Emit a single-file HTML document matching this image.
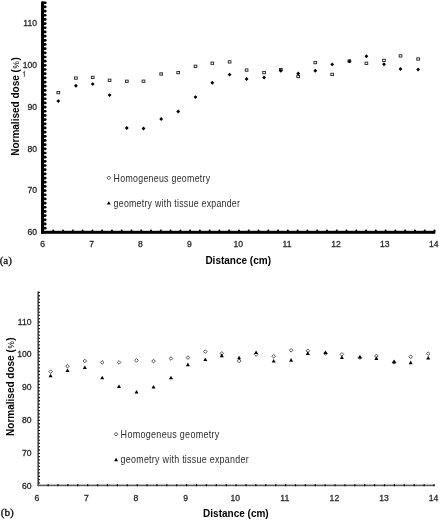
<!DOCTYPE html><html><head><meta charset="utf-8"><style>
html,body{margin:0;padding:0;background:#fff;width:442px;height:524px;overflow:hidden}
svg{display:block;will-change:transform}
.t{font-family:"Liberation Sans",sans-serif;fill:#333}
.s{font-family:"Liberation Serif",serif;fill:#111}
</style></head><body>
<svg width="442" height="524" viewBox="0 0 442 524">
<defs><filter id="bl" x="-20%" y="-20%" width="140%" height="140%"><feGaussianBlur stdDeviation="0.35"/></filter></defs>
<g fill="#000">
<rect x="41" y="1.3" width="3" height="232.5" rx="1.2"/>
<rect x="42.5" y="226.78" width="4.1" height="2.7" rx="1.35"/>
<rect x="42.5" y="222.6" width="4.1" height="2.7" rx="1.35"/>
<rect x="42.5" y="218.43" width="4.1" height="2.7" rx="1.35"/>
<rect x="42.5" y="214.25" width="4.1" height="2.7" rx="1.35"/>
<rect x="42.5" y="210.08" width="4.1" height="2.7" rx="1.35"/>
<rect x="42.5" y="205.91" width="4.1" height="2.7" rx="1.35"/>
<rect x="42.5" y="201.73" width="4.1" height="2.7" rx="1.35"/>
<rect x="42.5" y="197.56" width="4.1" height="2.7" rx="1.35"/>
<rect x="42.5" y="193.38" width="4.1" height="2.7" rx="1.35"/>
<rect x="42.5" y="189.21" width="4.1" height="2.7" rx="1.35"/>
<rect x="42.5" y="185.04" width="4.1" height="2.7" rx="1.35"/>
<rect x="42.5" y="180.86" width="4.1" height="2.7" rx="1.35"/>
<rect x="42.5" y="176.69" width="4.1" height="2.7" rx="1.35"/>
<rect x="42.5" y="172.51" width="4.1" height="2.7" rx="1.35"/>
<rect x="42.5" y="168.34" width="4.1" height="2.7" rx="1.35"/>
<rect x="42.5" y="164.17" width="4.1" height="2.7" rx="1.35"/>
<rect x="42.5" y="159.99" width="4.1" height="2.7" rx="1.35"/>
<rect x="42.5" y="155.82" width="4.1" height="2.7" rx="1.35"/>
<rect x="42.5" y="151.64" width="4.1" height="2.7" rx="1.35"/>
<rect x="42.5" y="147.47" width="4.1" height="2.7" rx="1.35"/>
<rect x="42.5" y="143.3" width="4.1" height="2.7" rx="1.35"/>
<rect x="42.5" y="139.12" width="4.1" height="2.7" rx="1.35"/>
<rect x="42.5" y="134.95" width="4.1" height="2.7" rx="1.35"/>
<rect x="42.5" y="130.77" width="4.1" height="2.7" rx="1.35"/>
<rect x="42.5" y="126.6" width="4.1" height="2.7" rx="1.35"/>
<rect x="42.5" y="122.43" width="4.1" height="2.7" rx="1.35"/>
<rect x="42.5" y="118.25" width="4.1" height="2.7" rx="1.35"/>
<rect x="42.5" y="114.08" width="4.1" height="2.7" rx="1.35"/>
<rect x="42.5" y="109.9" width="4.1" height="2.7" rx="1.35"/>
<rect x="42.5" y="105.73" width="4.1" height="2.7" rx="1.35"/>
<rect x="42.5" y="101.56" width="4.1" height="2.7" rx="1.35"/>
<rect x="42.5" y="97.38" width="4.1" height="2.7" rx="1.35"/>
<rect x="42.5" y="93.21" width="4.1" height="2.7" rx="1.35"/>
<rect x="42.5" y="89.03" width="4.1" height="2.7" rx="1.35"/>
<rect x="42.5" y="84.86" width="4.1" height="2.7" rx="1.35"/>
<rect x="42.5" y="80.69" width="4.1" height="2.7" rx="1.35"/>
<rect x="42.5" y="76.51" width="4.1" height="2.7" rx="1.35"/>
<rect x="42.5" y="72.34" width="4.1" height="2.7" rx="1.35"/>
<rect x="42.5" y="68.16" width="4.1" height="2.7" rx="1.35"/>
<rect x="42.5" y="63.99" width="4.1" height="2.7" rx="1.35"/>
<rect x="42.5" y="59.82" width="4.1" height="2.7" rx="1.35"/>
<rect x="42.5" y="55.64" width="4.1" height="2.7" rx="1.35"/>
<rect x="42.5" y="51.47" width="4.1" height="2.7" rx="1.35"/>
<rect x="42.5" y="47.29" width="4.1" height="2.7" rx="1.35"/>
<rect x="42.5" y="43.12" width="4.1" height="2.7" rx="1.35"/>
<rect x="42.5" y="38.95" width="4.1" height="2.7" rx="1.35"/>
<rect x="42.5" y="34.77" width="4.1" height="2.7" rx="1.35"/>
<rect x="42.5" y="30.6" width="4.1" height="2.7" rx="1.35"/>
<rect x="42.5" y="26.42" width="4.1" height="2.7" rx="1.35"/>
<rect x="42.5" y="22.25" width="4.1" height="2.7" rx="1.35"/>
<rect x="42.5" y="18.08" width="4.1" height="2.7" rx="1.35"/>
<rect x="42.5" y="13.9" width="4.1" height="2.7" rx="1.35"/>
<rect x="42.5" y="9.73" width="4.1" height="2.7" rx="1.35"/>
<rect x="42.5" y="5.55" width="4.1" height="2.7" rx="1.35"/>
<rect x="42.5" y="1.38" width="4.1" height="2.7" rx="1.35"/>
<rect x="41" y="230.8" width="394.3" height="3"/>
<rect x="52.28" y="229.6" width="2" height="2.4" rx="1"/>
<rect x="62.05" y="229.6" width="2" height="2.4" rx="1"/>
<rect x="71.83" y="229.6" width="2" height="2.4" rx="1"/>
<rect x="81.6" y="229.6" width="2" height="2.4" rx="1"/>
<rect x="91.38" y="229.6" width="2" height="2.4" rx="1"/>
<rect x="101.15" y="229.6" width="2" height="2.4" rx="1"/>
<rect x="110.93" y="229.6" width="2" height="2.4" rx="1"/>
<rect x="120.7" y="229.6" width="2" height="2.4" rx="1"/>
<rect x="130.48" y="229.6" width="2" height="2.4" rx="1"/>
<rect x="140.25" y="229.6" width="2" height="2.4" rx="1"/>
<rect x="150.03" y="229.6" width="2" height="2.4" rx="1"/>
<rect x="159.8" y="229.6" width="2" height="2.4" rx="1"/>
<rect x="169.57" y="229.6" width="2" height="2.4" rx="1"/>
<rect x="179.35" y="229.6" width="2" height="2.4" rx="1"/>
<rect x="189.12" y="229.6" width="2" height="2.4" rx="1"/>
<rect x="198.9" y="229.6" width="2" height="2.4" rx="1"/>
<rect x="208.67" y="229.6" width="2" height="2.4" rx="1"/>
<rect x="218.45" y="229.6" width="2" height="2.4" rx="1"/>
<rect x="228.22" y="229.6" width="2" height="2.4" rx="1"/>
<rect x="238" y="229.6" width="2" height="2.4" rx="1"/>
<rect x="247.77" y="229.6" width="2" height="2.4" rx="1"/>
<rect x="257.55" y="229.6" width="2" height="2.4" rx="1"/>
<rect x="267.32" y="229.6" width="2" height="2.4" rx="1"/>
<rect x="277.1" y="229.6" width="2" height="2.4" rx="1"/>
<rect x="286.87" y="229.6" width="2" height="2.4" rx="1"/>
<rect x="296.65" y="229.6" width="2" height="2.4" rx="1"/>
<rect x="306.42" y="229.6" width="2" height="2.4" rx="1"/>
<rect x="316.2" y="229.6" width="2" height="2.4" rx="1"/>
<rect x="325.97" y="229.6" width="2" height="2.4" rx="1"/>
<rect x="335.75" y="229.6" width="2" height="2.4" rx="1"/>
<rect x="345.52" y="229.6" width="2" height="2.4" rx="1"/>
<rect x="355.3" y="229.6" width="2" height="2.4" rx="1"/>
<rect x="365.07" y="229.6" width="2" height="2.4" rx="1"/>
<rect x="374.85" y="229.6" width="2" height="2.4" rx="1"/>
<rect x="384.62" y="229.6" width="2" height="2.4" rx="1"/>
<rect x="394.4" y="229.6" width="2" height="2.4" rx="1"/>
<rect x="404.17" y="229.6" width="2" height="2.4" rx="1"/>
<rect x="413.95" y="229.6" width="2" height="2.4" rx="1"/>
<rect x="423.72" y="229.6" width="2" height="2.4" rx="1"/>
<rect x="433.5" y="229.6" width="2" height="2.4" rx="1"/>
</g>
<g class="t" font-size="8.6" style="fill:#2a2a2a" stroke="#2a2a2a" stroke-width="0.3">
<text x="37" y="235.1" text-anchor="end">60</text>
<text x="37" y="193.36" text-anchor="end">70</text>
<text x="37" y="151.62" text-anchor="end">80</text>
<text x="37" y="109.88" text-anchor="end">90</text>
<text x="37" y="68.14" text-anchor="end">100</text>
<text x="37" y="26.4" text-anchor="end">110</text>
<text x="42.7" y="247.2" text-anchor="middle">6</text>
<text x="91.58" y="247.2" text-anchor="middle">7</text>
<text x="140.45" y="247.2" text-anchor="middle">8</text>
<text x="189.32" y="247.2" text-anchor="middle">9</text>
<text x="238.2" y="247.2" text-anchor="middle">10</text>
<text x="287.07" y="247.2" text-anchor="middle">11</text>
<text x="335.95" y="247.2" text-anchor="middle">12</text>
<text x="384.82" y="247.2" text-anchor="middle">13</text>
<text x="433.7" y="247.2" text-anchor="middle">14</text>
</g>
<path d="M23.2 73.2 L24.4 71.9 L24.4 76.7" fill="none" stroke="#5a5a5a" stroke-width="1.05"/>
<text class="t" font-weight="bold" font-size="10" style="fill:#000" text-anchor="middle" transform="translate(18.7,106.5) rotate(-90)">Normalised dose (<tspan font-weight="normal" font-size="8.3" dx="0.6">%</tspan><tspan dx="0.6">)</tspan></text>
<text class="t" font-weight="bold" font-size="10" style="fill:#000" x="205.4" y="264.2">Distance (cm)</text>
<text class="s" font-size="11" x="-0.3" y="263.6" stroke="#111" stroke-width="0.3">(a)</text>
<g class="t" font-size="10" style="fill:#2c2c2c">
<text transform="translate(113.6,181.6) scale(0.88,1)" letter-spacing="0.33">Homogeneus geometry</text>
<text transform="translate(113.6,206.8) scale(0.88,1)" letter-spacing="0.29">geometry with tissue expander</text>
</g>
<path d="M108.8 176 L110.6 177.8 L108.8 179.6 L107 177.8 Z" fill="none" stroke="#222" stroke-width="0.8"/>
<path d="M108.8 201.2 L110.8 204.6 L106.8 204.6 Z" fill="#000"/>
<g filter="url(#bl)">
<rect x="56.95" y="91.45" width="2.7" height="2.3" fill="none" stroke="#222" stroke-width="0.9"/>
<rect x="74.55" y="76.95" width="2.7" height="2.3" fill="none" stroke="#222" stroke-width="0.9"/>
<rect x="91.35" y="76.25" width="2.7" height="2.3" fill="none" stroke="#222" stroke-width="0.9"/>
<rect x="108.25" y="79.15" width="2.7" height="2.3" fill="none" stroke="#222" stroke-width="0.9"/>
<rect x="125.45" y="80.15" width="2.7" height="2.3" fill="none" stroke="#222" stroke-width="0.9"/>
<rect x="142.15" y="80.05" width="2.7" height="2.3" fill="none" stroke="#222" stroke-width="0.9"/>
<rect x="159.85" y="72.85" width="2.7" height="2.3" fill="none" stroke="#222" stroke-width="0.9"/>
<rect x="176.85" y="71.45" width="2.7" height="2.3" fill="none" stroke="#222" stroke-width="0.9"/>
<rect x="194.15" y="65.15" width="2.7" height="2.3" fill="none" stroke="#222" stroke-width="0.9"/>
<rect x="210.95" y="62.05" width="2.7" height="2.3" fill="none" stroke="#222" stroke-width="0.9"/>
<rect x="228.25" y="60.75" width="2.7" height="2.3" fill="none" stroke="#222" stroke-width="0.9"/>
<rect x="245.25" y="68.95" width="2.7" height="2.3" fill="none" stroke="#222" stroke-width="0.9"/>
<rect x="262.75" y="71.45" width="2.7" height="2.3" fill="none" stroke="#222" stroke-width="0.9"/>
<rect x="279.45" y="68.45" width="2.7" height="2.3" fill="none" stroke="#222" stroke-width="0.9"/>
<rect x="296.85" y="75.35" width="2.7" height="2.3" fill="none" stroke="#222" stroke-width="0.9"/>
<rect x="313.95" y="61.45" width="2.7" height="2.3" fill="none" stroke="#222" stroke-width="0.9"/>
<rect x="330.85" y="73.25" width="2.7" height="2.3" fill="none" stroke="#222" stroke-width="0.9"/>
<rect x="348.05" y="59.85" width="2.7" height="2.3" fill="none" stroke="#222" stroke-width="0.9"/>
<rect x="365.05" y="62.15" width="2.7" height="2.3" fill="none" stroke="#222" stroke-width="0.9"/>
<rect x="382.65" y="59.25" width="2.7" height="2.3" fill="none" stroke="#222" stroke-width="0.9"/>
<rect x="399.15" y="54.75" width="2.7" height="2.3" fill="none" stroke="#222" stroke-width="0.9"/>
<rect x="416.75" y="57.85" width="2.7" height="2.3" fill="none" stroke="#222" stroke-width="0.9"/>
<path d="M58.3 99.15l1.9 1.95l-1.9 1.95l-1.9 -1.95z" fill="#000"/>
<path d="M75.9 83.75l1.9 1.95l-1.9 1.95l-1.9 -1.95z" fill="#000"/>
<path d="M92.7 82.15l1.9 1.95l-1.9 1.95l-1.9 -1.95z" fill="#000"/>
<path d="M109.6 93.15l1.9 1.95l-1.9 1.95l-1.9 -1.95z" fill="#000"/>
<path d="M126.8 126.05l1.9 1.95l-1.9 1.95l-1.9 -1.95z" fill="#000"/>
<path d="M143.5 126.55l1.9 1.95l-1.9 1.95l-1.9 -1.95z" fill="#000"/>
<path d="M161.2 117.05l1.9 1.95l-1.9 1.95l-1.9 -1.95z" fill="#000"/>
<path d="M178.2 109.55l1.9 1.95l-1.9 1.95l-1.9 -1.95z" fill="#000"/>
<path d="M195.5 95.15l1.9 1.95l-1.9 1.95l-1.9 -1.95z" fill="#000"/>
<path d="M212.3 80.75l1.9 1.95l-1.9 1.95l-1.9 -1.95z" fill="#000"/>
<path d="M229.6 72.65l1.9 1.95l-1.9 1.95l-1.9 -1.95z" fill="#000"/>
<path d="M246.6 77.05l1.9 1.95l-1.9 1.95l-1.9 -1.95z" fill="#000"/>
<path d="M264.1 75.55l1.9 1.95l-1.9 1.95l-1.9 -1.95z" fill="#000"/>
<path d="M280.8 68.85l1.9 1.95l-1.9 1.95l-1.9 -1.95z" fill="#000"/>
<path d="M298.2 71.55l1.9 1.95l-1.9 1.95l-1.9 -1.95z" fill="#000"/>
<path d="M315.3 68.85l1.9 1.95l-1.9 1.95l-1.9 -1.95z" fill="#000"/>
<path d="M332.2 62.45l1.9 1.95l-1.9 1.95l-1.9 -1.95z" fill="#000"/>
<path d="M349.4 59.45l1.9 1.95l-1.9 1.95l-1.9 -1.95z" fill="#000"/>
<path d="M366.4 54.35l1.9 1.95l-1.9 1.95l-1.9 -1.95z" fill="#000"/>
<path d="M384 62.25l1.9 1.95l-1.9 1.95l-1.9 -1.95z" fill="#000"/>
<path d="M400.5 67.05l1.9 1.95l-1.9 1.95l-1.9 -1.95z" fill="#000"/>
<path d="M418.1 67.55l1.9 1.95l-1.9 1.95l-1.9 -1.95z" fill="#000"/>
</g>
<rect x="37.4" y="291.2" width="1.6" height="195" rx="0.7" fill="#4a4a4a"/>
<g fill="#111">
<rect x="38.3" y="482.17" width="1.7" height="1.3" rx="0.5"/>
<rect x="38.3" y="478.89" width="1.7" height="1.3" rx="0.5"/>
<rect x="38.3" y="475.6" width="1.7" height="1.3" rx="0.5"/>
<rect x="38.3" y="472.32" width="1.7" height="1.3" rx="0.5"/>
<rect x="38.3" y="469.04" width="1.7" height="1.3" rx="0.5"/>
<rect x="38.3" y="465.76" width="1.7" height="1.3" rx="0.5"/>
<rect x="38.3" y="462.48" width="1.7" height="1.3" rx="0.5"/>
<rect x="38.3" y="459.19" width="1.7" height="1.3" rx="0.5"/>
<rect x="38.3" y="455.91" width="1.7" height="1.3" rx="0.5"/>
<rect x="38.3" y="452.63" width="1.7" height="1.3" rx="0.5"/>
<rect x="38.3" y="449.35" width="1.7" height="1.3" rx="0.5"/>
<rect x="38.3" y="446.07" width="1.7" height="1.3" rx="0.5"/>
<rect x="38.3" y="442.78" width="1.7" height="1.3" rx="0.5"/>
<rect x="38.3" y="439.5" width="1.7" height="1.3" rx="0.5"/>
<rect x="38.3" y="436.22" width="1.7" height="1.3" rx="0.5"/>
<rect x="38.3" y="432.94" width="1.7" height="1.3" rx="0.5"/>
<rect x="38.3" y="429.66" width="1.7" height="1.3" rx="0.5"/>
<rect x="38.3" y="426.37" width="1.7" height="1.3" rx="0.5"/>
<rect x="38.3" y="423.09" width="1.7" height="1.3" rx="0.5"/>
<rect x="38.3" y="419.81" width="1.7" height="1.3" rx="0.5"/>
<rect x="38.3" y="416.53" width="1.7" height="1.3" rx="0.5"/>
<rect x="38.3" y="413.25" width="1.7" height="1.3" rx="0.5"/>
<rect x="38.3" y="409.96" width="1.7" height="1.3" rx="0.5"/>
<rect x="38.3" y="406.68" width="1.7" height="1.3" rx="0.5"/>
<rect x="38.3" y="403.4" width="1.7" height="1.3" rx="0.5"/>
<rect x="38.3" y="400.12" width="1.7" height="1.3" rx="0.5"/>
<rect x="38.3" y="396.84" width="1.7" height="1.3" rx="0.5"/>
<rect x="38.3" y="393.55" width="1.7" height="1.3" rx="0.5"/>
<rect x="38.3" y="390.27" width="1.7" height="1.3" rx="0.5"/>
<rect x="38.3" y="386.99" width="1.7" height="1.3" rx="0.5"/>
<rect x="38.3" y="383.71" width="1.7" height="1.3" rx="0.5"/>
<rect x="38.3" y="380.43" width="1.7" height="1.3" rx="0.5"/>
<rect x="38.3" y="377.14" width="1.7" height="1.3" rx="0.5"/>
<rect x="38.3" y="373.86" width="1.7" height="1.3" rx="0.5"/>
<rect x="38.3" y="370.58" width="1.7" height="1.3" rx="0.5"/>
<rect x="38.3" y="367.3" width="1.7" height="1.3" rx="0.5"/>
<rect x="38.3" y="364.02" width="1.7" height="1.3" rx="0.5"/>
<rect x="38.3" y="360.73" width="1.7" height="1.3" rx="0.5"/>
<rect x="38.3" y="357.45" width="1.7" height="1.3" rx="0.5"/>
<rect x="38.3" y="354.17" width="1.7" height="1.3" rx="0.5"/>
<rect x="38.3" y="350.89" width="1.7" height="1.3" rx="0.5"/>
<rect x="38.3" y="347.61" width="1.7" height="1.3" rx="0.5"/>
<rect x="38.3" y="344.32" width="1.7" height="1.3" rx="0.5"/>
<rect x="38.3" y="341.04" width="1.7" height="1.3" rx="0.5"/>
<rect x="38.3" y="337.76" width="1.7" height="1.3" rx="0.5"/>
<rect x="38.3" y="334.48" width="1.7" height="1.3" rx="0.5"/>
<rect x="38.3" y="331.2" width="1.7" height="1.3" rx="0.5"/>
<rect x="38.3" y="327.91" width="1.7" height="1.3" rx="0.5"/>
<rect x="38.3" y="324.63" width="1.7" height="1.3" rx="0.5"/>
<rect x="38.3" y="321.35" width="1.7" height="1.3" rx="0.5"/>
<rect x="38.3" y="318.07" width="1.7" height="1.3" rx="0.5"/>
<rect x="38.3" y="314.79" width="1.7" height="1.3" rx="0.5"/>
<rect x="38.3" y="311.5" width="1.7" height="1.3" rx="0.5"/>
<rect x="38.3" y="308.22" width="1.7" height="1.3" rx="0.5"/>
<rect x="38.3" y="304.94" width="1.7" height="1.3" rx="0.5"/>
<rect x="38.3" y="301.66" width="1.7" height="1.3" rx="0.5"/>
<rect x="38.3" y="298.38" width="1.7" height="1.3" rx="0.5"/>
<rect x="38.3" y="295.09" width="1.7" height="1.3" rx="0.5"/>
<rect x="38.3" y="291.81" width="1.7" height="1.3" rx="0.5"/>
<rect x="37.4" y="484.6" width="397.3" height="1.6" fill="#5a5a5a"/>
<rect x="47.45" y="484.1" width="1.3" height="2.2" rx="0.6"/>
<rect x="57.34" y="484.1" width="1.3" height="2.2" rx="0.6"/>
<rect x="67.24" y="484.1" width="1.3" height="2.2" rx="0.6"/>
<rect x="77.13" y="484.1" width="1.3" height="2.2" rx="0.6"/>
<rect x="87.03" y="484.1" width="1.3" height="2.2" rx="0.6"/>
<rect x="96.92" y="484.1" width="1.3" height="2.2" rx="0.6"/>
<rect x="106.82" y="484.1" width="1.3" height="2.2" rx="0.6"/>
<rect x="116.71" y="484.1" width="1.3" height="2.2" rx="0.6"/>
<rect x="126.61" y="484.1" width="1.3" height="2.2" rx="0.6"/>
<rect x="136.5" y="484.1" width="1.3" height="2.2" rx="0.6"/>
<rect x="146.4" y="484.1" width="1.3" height="2.2" rx="0.6"/>
<rect x="156.29" y="484.1" width="1.3" height="2.2" rx="0.6"/>
<rect x="166.18" y="484.1" width="1.3" height="2.2" rx="0.6"/>
<rect x="176.08" y="484.1" width="1.3" height="2.2" rx="0.6"/>
<rect x="185.97" y="484.1" width="1.3" height="2.2" rx="0.6"/>
<rect x="195.87" y="484.1" width="1.3" height="2.2" rx="0.6"/>
<rect x="205.76" y="484.1" width="1.3" height="2.2" rx="0.6"/>
<rect x="215.66" y="484.1" width="1.3" height="2.2" rx="0.6"/>
<rect x="225.55" y="484.1" width="1.3" height="2.2" rx="0.6"/>
<rect x="235.45" y="484.1" width="1.3" height="2.2" rx="0.6"/>
<rect x="245.34" y="484.1" width="1.3" height="2.2" rx="0.6"/>
<rect x="255.24" y="484.1" width="1.3" height="2.2" rx="0.6"/>
<rect x="265.13" y="484.1" width="1.3" height="2.2" rx="0.6"/>
<rect x="275.03" y="484.1" width="1.3" height="2.2" rx="0.6"/>
<rect x="284.92" y="484.1" width="1.3" height="2.2" rx="0.6"/>
<rect x="294.82" y="484.1" width="1.3" height="2.2" rx="0.6"/>
<rect x="304.71" y="484.1" width="1.3" height="2.2" rx="0.6"/>
<rect x="314.61" y="484.1" width="1.3" height="2.2" rx="0.6"/>
<rect x="324.5" y="484.1" width="1.3" height="2.2" rx="0.6"/>
<rect x="334.4" y="484.1" width="1.3" height="2.2" rx="0.6"/>
<rect x="344.29" y="484.1" width="1.3" height="2.2" rx="0.6"/>
<rect x="354.19" y="484.1" width="1.3" height="2.2" rx="0.6"/>
<rect x="364.08" y="484.1" width="1.3" height="2.2" rx="0.6"/>
<rect x="373.98" y="484.1" width="1.3" height="2.2" rx="0.6"/>
<rect x="383.87" y="484.1" width="1.3" height="2.2" rx="0.6"/>
<rect x="393.77" y="484.1" width="1.3" height="2.2" rx="0.6"/>
<rect x="403.66" y="484.1" width="1.3" height="2.2" rx="0.6"/>
<rect x="413.56" y="484.1" width="1.3" height="2.2" rx="0.6"/>
<rect x="423.45" y="484.1" width="1.3" height="2.2" rx="0.6"/>
<rect x="433.35" y="484.1" width="1.3" height="2.2" rx="0.6"/>
</g>
<g class="t" font-size="8.6" style="fill:#2a2a2a" stroke="#2a2a2a" stroke-width="0.3">
<text x="31.5" y="488.7" text-anchor="end">60</text>
<text x="31.5" y="455.88" text-anchor="end">70</text>
<text x="31.5" y="423.06" text-anchor="end">80</text>
<text x="31.5" y="390.24" text-anchor="end">90</text>
<text x="31.5" y="357.42" text-anchor="end">100</text>
<text x="31.5" y="324.6" text-anchor="end">110</text>
<text x="36.8" y="500.9" text-anchor="middle">6</text>
<text x="86.4" y="500.9" text-anchor="middle">7</text>
<text x="136" y="500.9" text-anchor="middle">8</text>
<text x="185.6" y="500.9" text-anchor="middle">9</text>
<text x="235.2" y="500.9" text-anchor="middle">10</text>
<text x="284.8" y="500.9" text-anchor="middle">11</text>
<text x="334.4" y="500.9" text-anchor="middle">12</text>
<text x="384" y="500.9" text-anchor="middle">13</text>
<text x="433.6" y="500.9" text-anchor="middle">14</text>
</g>
<text class="t" font-weight="bold" font-size="10" style="fill:#000" text-anchor="middle" transform="translate(14.2,386.6) rotate(-90)">Normalised dose (<tspan font-weight="normal" font-size="8.3" dx="0.6">%</tspan><tspan dx="0.6">)</tspan></text>
<text class="t" font-weight="bold" font-size="10" style="fill:#000" x="203.1" y="517">Distance (cm)</text>
<text class="s" font-size="11.2" x="0.8" y="515.9" stroke="#111" stroke-width="0.35">(b)</text>
<g class="t" font-size="10" style="fill:#2c2c2c">
<text transform="translate(120.6,438) scale(0.9,1)" letter-spacing="0.33">Homogeneus geometry</text>
<text transform="translate(120.6,463) scale(0.89,1)" letter-spacing="0.3">geometry with tissue expander</text>
</g>
<path d="M116.1 432.4 L117.9 434.2 L116.1 436 L114.3 434.2 Z" fill="none" stroke="#222" stroke-width="0.8"/>
<path d="M116.1 457.8 L118.1 461.2 L114.1 461.2 Z" fill="#000"/>
<g filter="url(#bl)">
<path d="M50.6 369.8l1.8 1.8l-1.8 1.8l-1.8 -1.8z" fill="none" stroke="#333" stroke-width="0.85"/>
<path d="M67.5 364.4l1.8 1.8l-1.8 1.8l-1.8 -1.8z" fill="none" stroke="#333" stroke-width="0.85"/>
<path d="M84.8 359.2l1.8 1.8l-1.8 1.8l-1.8 -1.8z" fill="none" stroke="#333" stroke-width="0.85"/>
<path d="M102.2 360.6l1.8 1.8l-1.8 1.8l-1.8 -1.8z" fill="none" stroke="#333" stroke-width="0.85"/>
<path d="M119 360.6l1.8 1.8l-1.8 1.8l-1.8 -1.8z" fill="none" stroke="#333" stroke-width="0.85"/>
<path d="M136.5 358.6l1.8 1.8l-1.8 1.8l-1.8 -1.8z" fill="none" stroke="#333" stroke-width="0.85"/>
<path d="M153.5 359.3l1.8 1.8l-1.8 1.8l-1.8 -1.8z" fill="none" stroke="#333" stroke-width="0.85"/>
<path d="M171 356.7l1.8 1.8l-1.8 1.8l-1.8 -1.8z" fill="none" stroke="#333" stroke-width="0.85"/>
<path d="M187.9 355.8l1.8 1.8l-1.8 1.8l-1.8 -1.8z" fill="none" stroke="#333" stroke-width="0.85"/>
<path d="M205.3 349.8l1.8 1.8l-1.8 1.8l-1.8 -1.8z" fill="none" stroke="#333" stroke-width="0.85"/>
<path d="M221.8 351.6l1.8 1.8l-1.8 1.8l-1.8 -1.8z" fill="none" stroke="#333" stroke-width="0.85"/>
<path d="M239.1 359.1l1.8 1.8l-1.8 1.8l-1.8 -1.8z" fill="none" stroke="#333" stroke-width="0.85"/>
<path d="M256.1 352.7l1.8 1.8l-1.8 1.8l-1.8 -1.8z" fill="none" stroke="#333" stroke-width="0.85"/>
<path d="M273.7 354.5l1.8 1.8l-1.8 1.8l-1.8 -1.8z" fill="none" stroke="#333" stroke-width="0.85"/>
<path d="M291.1 348.5l1.8 1.8l-1.8 1.8l-1.8 -1.8z" fill="none" stroke="#333" stroke-width="0.85"/>
<path d="M307.8 349l1.8 1.8l-1.8 1.8l-1.8 -1.8z" fill="none" stroke="#333" stroke-width="0.85"/>
<path d="M325.5 351.6l1.8 1.8l-1.8 1.8l-1.8 -1.8z" fill="none" stroke="#333" stroke-width="0.85"/>
<path d="M341.9 352.6l1.8 1.8l-1.8 1.8l-1.8 -1.8z" fill="none" stroke="#333" stroke-width="0.85"/>
<path d="M359.9 355.8l1.8 1.8l-1.8 1.8l-1.8 -1.8z" fill="none" stroke="#333" stroke-width="0.85"/>
<path d="M376.4 354.2l1.8 1.8l-1.8 1.8l-1.8 -1.8z" fill="none" stroke="#333" stroke-width="0.85"/>
<path d="M394.1 360.5l1.8 1.8l-1.8 1.8l-1.8 -1.8z" fill="none" stroke="#333" stroke-width="0.85"/>
<path d="M410.7 355l1.8 1.8l-1.8 1.8l-1.8 -1.8z" fill="none" stroke="#333" stroke-width="0.85"/>
<path d="M428.2 351.9l1.8 1.8l-1.8 1.8l-1.8 -1.8z" fill="none" stroke="#333" stroke-width="0.85"/>
<path d="M50.6 373.7l2 3.6h-4z" fill="#000"/>
<path d="M67.5 368.4l2 3.6h-4z" fill="#000"/>
<path d="M84.8 365.5l2 3.6h-4z" fill="#000"/>
<path d="M102.2 375.7l2 3.6h-4z" fill="#000"/>
<path d="M119 384.4l2 3.6h-4z" fill="#000"/>
<path d="M136.5 389.9l2 3.6h-4z" fill="#000"/>
<path d="M153.5 385l2 3.6h-4z" fill="#000"/>
<path d="M171 375.7l2 3.6h-4z" fill="#000"/>
<path d="M187.9 362.6l2 3.6h-4z" fill="#000"/>
<path d="M205.3 357.5l2 3.6h-4z" fill="#000"/>
<path d="M221.8 353.6l2 3.6h-4z" fill="#000"/>
<path d="M239.1 355.7l2 3.6h-4z" fill="#000"/>
<path d="M256.1 350.5l2 3.6h-4z" fill="#000"/>
<path d="M273.7 358.9l2 3.6h-4z" fill="#000"/>
<path d="M291.1 358.1l2 3.6h-4z" fill="#000"/>
<path d="M307.8 351.3l2 3.6h-4z" fill="#000"/>
<path d="M325.5 350.5l2 3.6h-4z" fill="#000"/>
<path d="M341.9 355.5l2 3.6h-4z" fill="#000"/>
<path d="M359.9 355l2 3.6h-4z" fill="#000"/>
<path d="M376.4 356.3l2 3.6h-4z" fill="#000"/>
<path d="M394.1 359.6l2 3.6h-4z" fill="#000"/>
<path d="M410.7 360.6l2 3.6h-4z" fill="#000"/>
<path d="M428.2 355.9l2 3.6h-4z" fill="#000"/>
</g>
</svg></body></html>
